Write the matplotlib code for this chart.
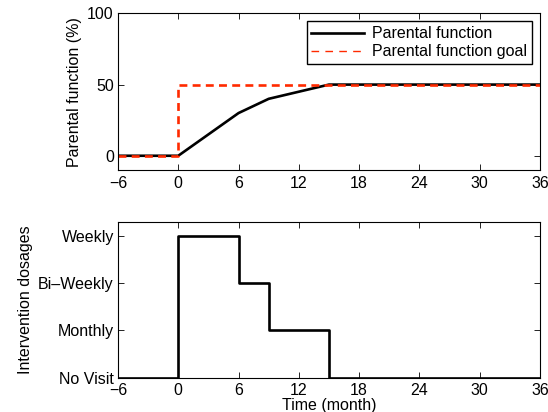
import numpy as np
import matplotlib
matplotlib.use('Agg')
from matplotlib import pyplot as plt

#%% Dados
# Parental function (%)
t_pf = [-6, 0, 3, 6, 9, 12, 15, 36]
pf = [0, 0, 15, 30, 40, 45, 50, 50]

# Meta (degrau em t=0)
t_goal = [-6, 0, 0, 36]
goal = [0, 0, 50, 50]

# Dosagens de intervenção (0=No Visit ... 3=Weekly)
t_dose = [-6, 0, 0, 6, 6, 9, 9, 15, 15, 36]
dose = [0, 0, 3, 3, 2, 2, 1, 1, 0, 0]
dose_labels = ['No Visit', 'Monthly', 'Bi\u2013Weekly', 'Weekly']

x_ticks = [-6, 0, 6, 12, 18, 24, 30, 36]

#%% Figura
plt.rcParams['font.family'] = ['Liberation Sans', 'DejaVu Sans']
plt.rcParams['font.size'] = 11.5

fig = plt.figure(figsize=(5.48, 4.12), dpi=100)
ax1 = fig.add_axes([0.2153, 0.5874, 0.770, 0.380])
ax2 = fig.add_axes([0.2153, 0.0835, 0.770, 0.3784])

ax1.plot(t_pf, pf, color='black', lw=1.9, label='Parental function')
ax1.plot(t_goal, goal, color='#ff2a00', lw=1.9, ls=(0, (3, 2)), label='Parental function goal')
ax1.set_xlim(-6, 36)
ax1.set_ylim(-10, 100)
ax1.set_xticks(x_ticks)
ax1.set_yticks([0, 50, 100])
ax1.set_ylabel('Parental function (%)', labelpad=4)
leg = ax1.legend(loc='upper right', frameon=True, fancybox=False,
                 edgecolor='black', framealpha=1, borderpad=0.3,
                 handlelength=3.3, labelspacing=0.2, borderaxespad=0.5,
                 handletextpad=0.5)
leg.get_frame().set_linewidth(1)
# linha tracejada da legenda mais fina, como no original
leg.get_lines()[1].set_linewidth(1)
leg.get_lines()[1].set_linestyle((0, (5.5, 4.5)))

ax2.plot(t_dose, dose, color='black', lw=1.9)
ax2.set_xlim(-6, 36)
ax2.set_ylim(0, 3.3)
ax2.set_xticks(x_ticks)
ax2.set_yticks(range(len(dose_labels)))
ax2.set_yticklabels(dose_labels)
ax2.set_ylabel('Intervention dosages', labelpad=4)
ax2.set_xlabel('Time (month)', labelpad=0)

for ax in (ax1, ax2):
    ax.tick_params(direction='in', top=True, right=True, length=4, width=0.6)
    ax.xaxis.set_tick_params(pad=4)
    ax.yaxis.set_tick_params(pad=3)
    for s in ax.spines.values():
        s.set_linewidth(0.8)

fig.savefig('out.png', dpi=100)
